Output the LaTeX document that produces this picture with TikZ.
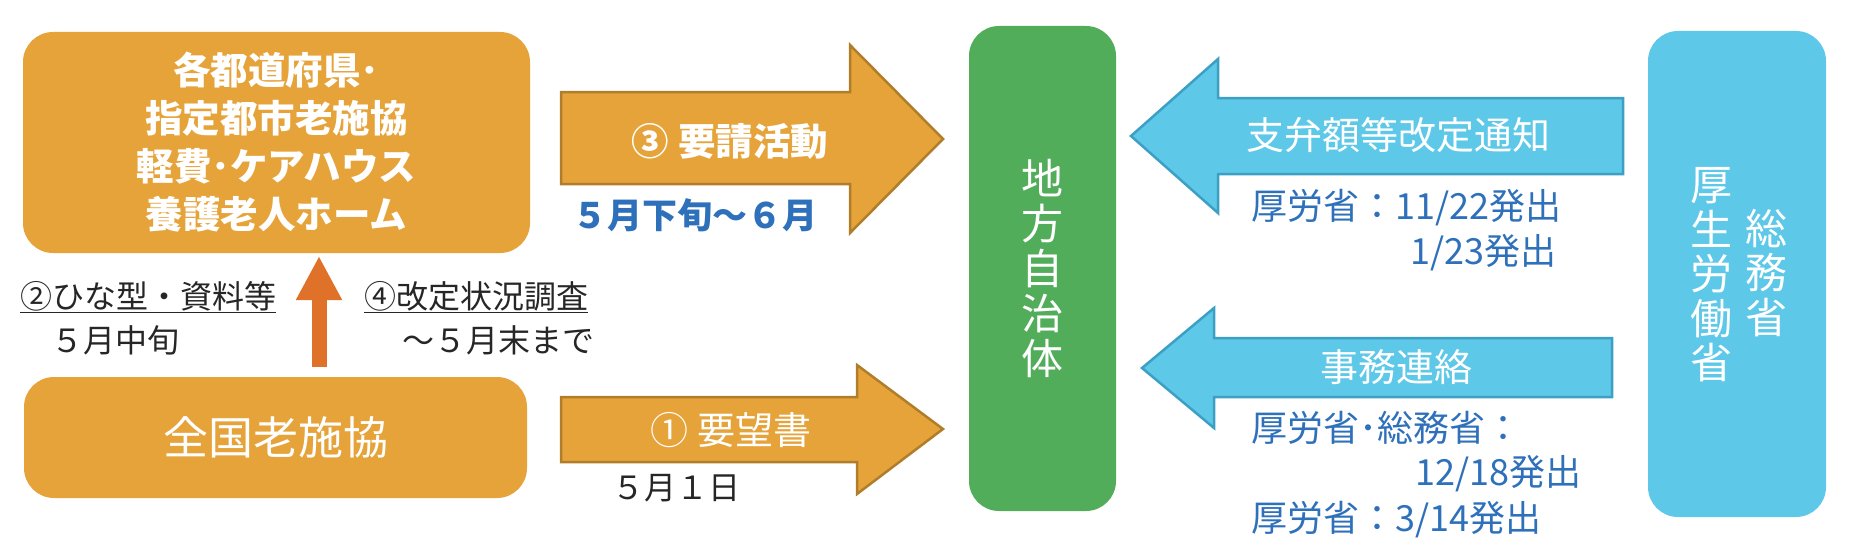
\documentclass[tikz,border=0pt]{standalone}
\usepackage{fontspec}
\setmainfont{Noto Sans CJK JP}
\usetikzlibrary{arrows.meta,positioning}
\definecolor{orangefill}{RGB}{229,163,58}
\definecolor{orangeline}{RGB}{176,126,42}
\definecolor{uparrowcol}{RGB}{224,113,40}
\definecolor{greenfill}{RGB}{82,173,91}
\definecolor{bluefill}{RGB}{94,200,232}
\definecolor{blueline}{RGB}{60,160,196}
\definecolor{bluetext}{RGB}{46,112,186}
\definecolor{darktext}{RGB}{38,38,38}
\begin{document}
\begin{tikzpicture}[x=1pt, y=-1pt,
  kbox/.style={fill=#1, rounded corners=30pt, text=white, align=center, inner sep=0pt},
  fatorange/.style={fill=orangefill, draw=orangeline, line width=2.5pt},
  fatblue/.style={fill=bluefill, draw=blueline, line width=2.5pt},
  vtext/.style={text=white, align=center, inner sep=0pt, font=\fontsize{42pt}{44.5pt}\selectfont},
  lbl/.style={text=darktext, inner sep=0pt, anchor=west, font=\fontsize{32pt}{36pt}\selectfont},
  bluelbl/.style={text=bluetext, inner sep=0pt, anchor=west, font=\fontsize{36pt}{40pt}\selectfont}]
\useasboundingbox (0,0) rectangle (1850,551);
% 左側の箱
\node[kbox=orangefill, minimum width=507pt, minimum height=221pt,
  font=\fontsize{37.5pt}{48pt}\selectfont\bfseries] (ken) at (276.5,142.5)
  {各都道府県･\\指定都市老施協\\軽費･ケアハウス\\養護老人ホーム};
\node[kbox=orangefill, minimum width=503pt, minimum height=121pt,
  font=\fontsize{45pt}{50pt}\selectfont] (zenkoku) at (275.5,437.5) {全国老施協};
% 上向き矢印
\coordinate (upfoot) at (319,367);
\coordinate (uptip) at (319,256);
\draw[uparrowcol, line width=15pt, -{Triangle[width=43pt,length=44pt]}] (upfoot) -- (uptip);
\node[lbl] (hinagata) at (20,297) {\underline{②ひな型・資料等}};
\node[lbl] (chujun) at (51,340) {５月中旬};
\node[lbl] (chosa) at (364,297) {\underline{④改定状況調査}};
\node[lbl] (matsu) at (402,340) {～５月末まで};
% 右向き矢印
\draw[fatorange] (561,92) -- (850,92) -- (850,45) -- (943,139) -- (850,233) -- (850,184) -- (561,184) -- cycle;
\draw[fatorange] (561,397) -- (857,397) -- (857,365) -- (943,429) -- (857,494) -- (857,462) -- (561,462) -- cycle;
\node[text=white, font=\fontsize{37.5pt}{40pt}\selectfont\bfseries] (yosei) at (730,141) {③ 要請活動};
\node[text=bluetext, font=\fontsize{35pt}{40pt}\selectfont\bfseries] (gejun) at (695,215) {５月下旬～６月};
\node[text=white, font=\fontsize{38pt}{40pt}\selectfont] (yobo) at (731,430) {① 要望書};
\node[lbl, anchor=center] (tsuitachi) at (676,488) {５月１日};
% 地方自治体
\node[kbox=greenfill, minimum width=147pt, minimum height=485pt, font=\fontsize{42pt}{45pt}\selectfont]
  (jichitai) at (1042.5,268.5) {地\\方\\自\\治\\体};
% 国
\node[kbox=bluefill, minimum width=178pt, minimum height=486pt] (kuni) at (1737,274) {};
\node[vtext] (kosei) at (1711,275) {厚\\生\\労\\働\\省};
\node[vtext] (somu) at (1766,273) {総\\務\\省};
% 左向き矢印
\draw[fatblue] (1623,98) -- (1218,98) -- (1218,59) -- (1131,136) -- (1218,213) -- (1218,174) -- (1623,174) -- cycle;
\draw[fatblue] (1612,338) -- (1214,338) -- (1214,308) -- (1142,368) -- (1214,428) -- (1214,397) -- (1612,397) -- cycle;
\node[text=white, font=\fontsize{38pt}{40pt}\selectfont] (tsuchi) at (1398,135) {支弁額等改定通知};
\node[text=white, font=\fontsize{38pt}{40pt}\selectfont] (renraku) at (1396,367) {事務連絡};
\node[bluelbl] (hasshutsua) at (1251,208) {厚労省：11/22発出};
\node[bluelbl] (hasshutsub) at (1410,253) {1/23発出};
\node[bluelbl] (hasshutsuc) at (1251,428) {厚労省･総務省：};
\node[bluelbl] (hasshutsud) at (1415,474) {12/18発出};
\node[bluelbl] (hasshutsue) at (1251,520) {厚労省：3/14発出};
\end{tikzpicture}
\end{document}
